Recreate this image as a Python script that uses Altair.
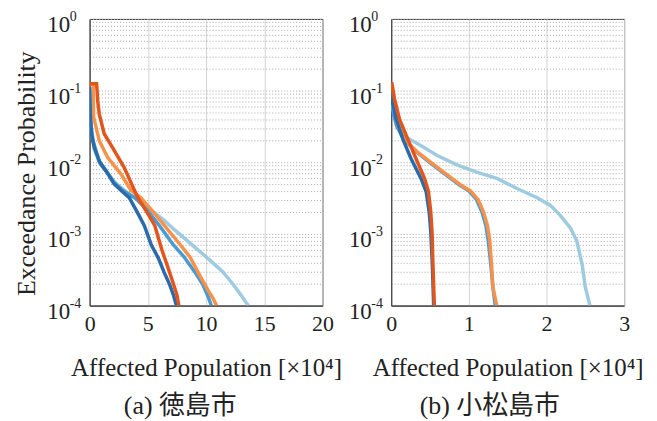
import altair as alt
import pandas as pd

# ---------------- data (x in 10^4 persons, p = exceedance probability) -------------
SERIES = ["light blue", "medium blue", "light orange", "dark blue", "dark orange"]
COLORS = ["#9fcbe1", "#4a9ad3", "#f7924a", "#2b6aab", "#e2561d"]

# (a) Tokushima city
A_lightblue_x = [0.0, 0.1, 0.4, 0.9, 1.6, 2.3, 3.2, 4.2, 5.2, 6.3, 7.4, 8.4, 9.4, 10.4, 11.4, 12.3, 13.0, 13.4, 13.65]
A_lightblue_p = [0.089, 0.03, 0.015, 0.0095, 0.0068, 0.005, 0.0038, 0.003, 0.0022, 0.0016, 0.0011, 0.0008, 0.00058, 0.00042, 0.0003, 0.0002, 0.00014, 0.000112, 0.0001]
A_medblue_x = [0.0, 0.1, 0.3, 0.8, 1.4, 2.1, 2.9, 4.0, 5.0, 6.0, 7.2, 8.1, 9.0, 9.7, 10.2, 10.45]
A_medblue_p = [0.1, 0.035, 0.02, 0.0105, 0.0077, 0.0052, 0.004, 0.0031, 0.0021, 0.0013, 0.0007, 0.00048, 0.0003, 0.0002, 0.00013, 0.0001]
A_orange_x = [0.0, 0.3, 0.34, 0.83, 1.54, 2.68, 3.53, 4.4, 5.6, 6.8, 7.8, 8.6, 9.6, 10.2, 10.6, 10.9]
A_orange_p = [0.125, 0.125, 0.043, 0.02, 0.0117, 0.0069, 0.0041, 0.0032, 0.0019, 0.0011, 0.0007, 0.00048, 0.00024, 0.00016, 0.000126, 0.0001]
A_darkblue_x = [0.0, 0.05, 0.15, 0.4, 0.9, 1.5, 2.1, 2.8, 3.4, 4.1, 4.7, 5.3, 5.9, 6.4, 6.85, 7.2, 7.45]
A_darkblue_p = [0.11, 0.05, 0.025, 0.016, 0.0098, 0.0072, 0.005, 0.0039, 0.0032, 0.002, 0.0013, 0.0007, 0.00046, 0.00029, 0.0002, 0.00014, 0.0001]
A_darkorange_x = [0.0, 0.6, 0.7, 0.83, 1.25, 1.97, 2.96, 4.1, 5.1, 5.6, 6.2, 6.7, 7.2, 7.5, 7.66]
A_darkorange_p = [0.125, 0.125, 0.07, 0.047, 0.025, 0.016, 0.0085, 0.0033, 0.0018, 0.0013, 0.0006, 0.00035, 0.0002, 0.00014, 0.0001]

# (b) Komatsushima city
B_lightblue_x = [0.0, 0.171, 0.385, 0.598, 0.855, 1.11, 1.37, 1.62, 1.88, 2.05, 2.18, 2.31, 2.39, 2.46, 2.5, 2.56]
B_lightblue_p = [0.063, 0.023, 0.017, 0.0123, 0.0091, 0.0072, 0.0059, 0.0043, 0.0032, 0.0025, 0.0018, 0.0012, 0.0008, 0.00037, 0.00018, 0.0001]
B_medblue_x = [0.0, 0.07, 0.16, 0.33, 0.54, 0.71, 0.88, 1.0, 1.1, 1.17, 1.22, 1.25, 1.28, 1.31, 1.34]
B_medblue_p = [0.063, 0.032, 0.021, 0.0138, 0.0091, 0.0066, 0.0048, 0.004, 0.003, 0.002, 0.0013, 0.0008, 0.0004, 0.00018, 0.0001]
B_orange_x = [0.0, 0.02, 0.085, 0.17, 0.34, 0.556, 0.727, 0.897, 1.02, 1.12, 1.19, 1.24, 1.27, 1.29, 1.31, 1.36]
B_orange_p = [0.125, 0.09, 0.032, 0.021, 0.0138, 0.0091, 0.0066, 0.0048, 0.004, 0.003, 0.002, 0.0013, 0.0008, 0.0004, 0.00018, 0.0001]
B_darkblue_x = [0.0, 0.009, 0.064, 0.15, 0.256, 0.385, 0.45, 0.49, 0.51, 0.53, 0.547]
B_darkblue_p = [0.1, 0.076, 0.04, 0.021, 0.0112, 0.0059, 0.0039, 0.002, 0.00107, 0.00037, 0.0001]
B_darkorange_x = [0.0, 0.01, 0.043, 0.107, 0.214, 0.32, 0.43, 0.48, 0.51, 0.526, 0.538, 0.556]
B_darkorange_p = [0.125, 0.125, 0.076, 0.04, 0.021, 0.0112, 0.0059, 0.0039, 0.002, 0.00107, 0.00037, 0.0001]

A_ticks = [0, 5, 10, 15, 20]
B_ticks = [0, 1, 2, 3]
DECADES = [1, 0.1, 0.01, 0.001, 0.0001]
EXPONENTS = ["0", "-1", "-2", "-3", "-4"]
Y_GRID = [m * d for d in [0.0001, 0.001, 0.01, 0.1] for m in range(1, 10)] + [1]

X_TITLE = "Affected Population [×10⁴]"
Y_TITLE = "Exceedance Probability"
CAPTIONS = ["(a)  徳島市", "(b)  小松島市"]
CAPTION_DX = [-26, -18]

SERIF = "Liberation Serif, Times New Roman, serif"
CJK = "Liberation Serif, Times New Roman, Noto Sans CJK JP"


def frame(pairs):
    rows = []
    for name, xs, ps in pairs:
        for x, p in zip(xs, ps):
            rows.append({"series": name, "x": x, "p": p})
    return pd.DataFrame(rows)


dfA = frame([
    ("light blue", A_lightblue_x, A_lightblue_p),
    ("medium blue", A_medblue_x, A_medblue_p),
    ("light orange", A_orange_x, A_orange_p),
    ("dark blue", A_darkblue_x, A_darkblue_p),
    ("dark orange", A_darkorange_x, A_darkorange_p),
])
dfB = frame([
    ("light blue", B_lightblue_x, B_lightblue_p),
    ("medium blue", B_medblue_x, B_medblue_p),
    ("light orange", B_orange_x, B_orange_p),
    ("dark blue", B_darkblue_x, B_darkblue_p),
    ("dark orange", B_darkorange_x, B_darkorange_p),
])
dfA["idx"] = range(len(dfA))
dfB["idx"] = range(len(dfB))
dfExp = pd.DataFrame({"p": DECADES, "e": EXPONENTS})

label_expr = "abs(log(datum.value)/LN10 - round(log(datum.value)/LN10)) < 0.001 ? '10' : ''"


def panel(df, xmax, ticks, caption, cdx, show_ytitle):
    ykw = dict(
        values=Y_GRID, labelExpr=label_expr, grid=True, gridDash=[1, 2],
        gridColor="#a8a8a8", ticks=False, labelPadding=20, labelFont=SERIF,
        labelFontSize=23, labelColor="#222222", labelBaseline="middle",
        labelOffset=6, domainColor="#333333", labelFlush=False,
    )
    if show_ytitle:
        ykw.update(
            title=Y_TITLE, titleFont=SERIF, titleFontSize=26,
            titleFontWeight="normal", titleColor="#222222",
            titleX=-76, titleY=155, titleBaseline="top", titleAlign="center",
        )
    else:
        ykw.update(title=None)
    yaxis = alt.Axis(**ykw)
    xaxis = alt.Axis(
        values=ticks, grid=True, gridColor="#d4d4d4", ticks=False,
        labelPadding=8, labelFont=SERIF, labelFontSize=22, labelColor="#222222",
        domainColor="#333333", labelFlush=False, title=X_TITLE, titleFont=SERIF,
        titleFontSize=25, titleFontWeight="normal", titleColor="#222222",
        titlePadding=21,
    )
    lines = alt.Chart(df).mark_line(strokeWidth=3.5, clip=True).encode(
        x=alt.X("x:Q", scale=alt.Scale(domain=[0, xmax], nice=False), axis=xaxis),
        y=alt.Y("p:Q", scale=alt.Scale(type="log", domain=[0.0001, 1], nice=False), axis=yaxis),
        color=alt.Color("series:N", scale=alt.Scale(domain=SERIES, range=COLORS), legend=None),
        order=alt.Order("idx:Q"),
    )
    exps = alt.Chart(dfExp).mark_text(
        align="left", baseline="alphabetic", font=SERIF, fontSize=14,
        color="#222222", dy=2,
    ).encode(x=alt.value(-20), y=alt.Y("p:Q"), text="e:N")
    return alt.layer(lines, exps).properties(
        width=234, height=288,
        title=alt.TitleParams(
            text=caption, orient="bottom", font=CJK, fontSize=26,
            fontWeight="normal", color="#222222", offset=13, dx=cdx,
        ),
    )


chart = alt.hconcat(
    panel(dfA, 20, A_ticks, CAPTIONS[0], CAPTION_DX[0], True),
    panel(dfB, 3, B_ticks, CAPTIONS[1], CAPTION_DX[1], False),
    spacing=69, bounds="flush",
).properties(
    padding={"left": 5, "top": 0, "right": 5, "bottom": 0},
    background="white",
).configure_view(stroke="#333333", strokeWidth=1)

chart.save("out.html", embed_options={"renderer": "svg", "actions": False})
